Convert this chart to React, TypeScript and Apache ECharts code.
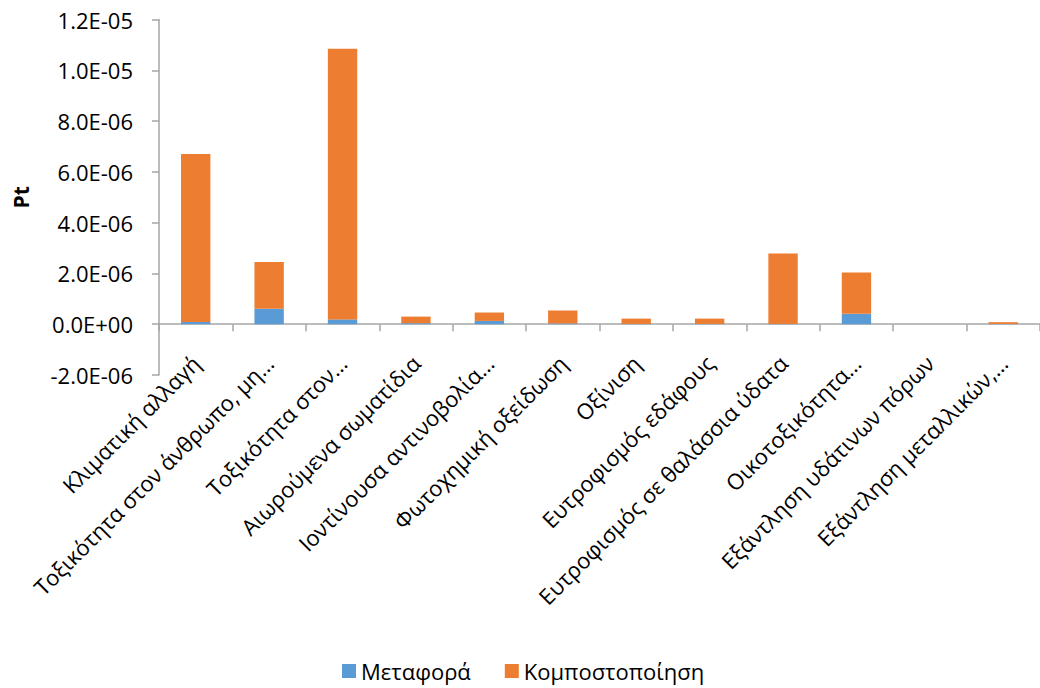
import React, { useEffect, useRef } from "react";
import * as echarts from "echarts";

// Impact categories (long names are shortened with an ellipsis)
const categories: string[] = [
  "Κλιματική αλλαγή",
  "Τοξικότητα στον άνθρωπο, μη…",
  "Τοξικότητα στον…",
  "Αιωρούμενα σωματίδια",
  "Ιοντίνουσα αντινοβολία…",
  "Φωτοχημική οξείδωση",
  "Οξίνιση",
  "Ευτροφισμός εδάφους",
  "Ευτροφισμός σε θαλάσσια ύδατα",
  "Οικοτοξικότητα…",
  "Εξάντληση υδάτινων πόρων",
  "Εξάντληση μεταλλικών,…",
];

// Single-score contributions (Pt)
const transport: number[] = [
  9e-8, 6.1e-7, 1.9e-7, 4e-8, 1.3e-7, 3e-8, 1e-8, 1e-8, 1e-8, 4.1e-7, 0, 1e-8,
];
const composting: number[] = [
  6.61e-6, 1.84e-6, 1.066e-5, 2.6e-7, 3.3e-7, 5.1e-7, 2.1e-7, 2.1e-7, 2.77e-6, 1.63e-6, 0, 7e-8,
];

const seriesNames: string[] = ["Μεταφορά", "Κομποστοποίηση"];

const yMin = -2e-6;
const yMax = 1.2e-5;
const yStep = 2e-6;

const FONT = "'Open Sans', 'Noto Sans', sans-serif";

// 1.2e-5 -> "1.2E-05", 0 -> "0.0E+00"
function sci(v: number): string {
  const s = v.toExponential(1);
  const [mant, expStr] = s.split("e");
  const e = parseInt(expStr, 10);
  const sign = e < 0 ? "-" : "+";
  const abs = Math.abs(e);
  return `${mant}E${sign}${abs < 10 ? "0" + abs : abs}`;
}

export default function App() {
  const ref = useRef<HTMLDivElement>(null);

  useEffect(() => {
    if (!ref.current) return;
    const chart = echarts.init(ref.current, undefined, { renderer: "svg" });
    const axisGray = "#A6A6A6";
    chart.setOption({
      animation: false,
      textStyle: { fontFamily: FONT },
      grid: { left: 159, right: -9, top: 19.5, bottom: 313, containLabel: false },
      legend: {
        top: 655,
        left: 337,
        itemWidth: 14,
        itemHeight: 14,
        itemGap: 34,
        icon: "rect",
        textStyle: { fontFamily: FONT, fontSize: 22, color: "#000" },
        data: seriesNames,
      },
      xAxis: {
        type: "category",
        data: categories,
        axisLine: { onZero: true, lineStyle: { color: axisGray, width: 1.5 } },
        axisTick: { show: true, interval: 0, length: 7, alignWithLabel: false, lineStyle: { color: axisGray, width: 1.5 } },
        axisLabel: {
          interval: 0,
          rotate: 45,
          margin: -16,
          fontFamily: FONT,
          fontSize: 22,
          color: "#000",
        },
        splitLine: { show: false },
      },
      yAxis: {
        type: "value",
        min: yMin,
        max: yMax,
        interval: yStep,
        name: "Pt",
        nameLocation: "middle",
        nameGap: 128,
        nameTextStyle: { fontFamily: FONT, fontSize: 21, fontWeight: "bold", color: "#000" },
        axisLine: { show: true, lineStyle: { color: axisGray, width: 1.5 } },
        axisTick: { show: true, length: 7, lineStyle: { color: axisGray, width: 1.5 } },
        axisLabel: {
          margin: 26,
          fontFamily: FONT,
          fontSize: 22,
          color: "#000",
          formatter: (v: number) => sci(v),
        },
        splitLine: { show: false },
      },
      series: [
        {
          name: seriesNames[0],
          type: "bar",
          stack: "total",
          barWidth: "40%",
          data: transport,
          itemStyle: { color: "#5B9BD5" },
        },
        {
          name: seriesNames[1],
          type: "bar",
          stack: "total",
          barWidth: "40%",
          data: composting,
          itemStyle: { color: "#ED7D31" },
        },
      ],
    });
    return () => chart.dispose();
  }, []);

  return (
    <div
      ref={ref}
      style={{ position: "absolute", left: 0, top: 0, width: 1040, height: 688 }}
    />
  );
}
